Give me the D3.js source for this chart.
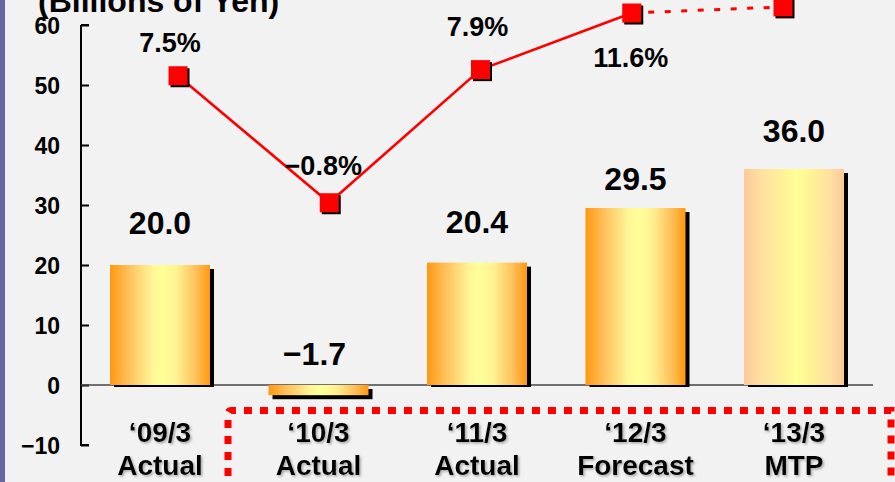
<!DOCTYPE html>
<html>
<head>
<meta charset="utf-8">
<script src="https://cdn.jsdelivr.net/npm/d3@7"></script>
<style>
  html, body { margin: 0; padding: 0; background: #f2f2f2; }
  svg { display: block; }
  text { font-family: "Liberation Sans", Arial, Helvetica, sans-serif; font-weight: bold; fill: #000; }
</style>
</head>
<body>
<svg id="chart" width="895" height="482"></svg>
<script>
// Fiscal periods and their status
const periods = ["\u201809/3", "\u201810/3", "\u201811/3", "\u201812/3", "\u201813/3"];
const periodTypes = ["Actual", "Actual", "Actual", "Forecast", "MTP"];

// Operating income (billions of yen) shown as bars
const income = [20.0, -1.7, 20.4, 29.5, 36.0];

// Operating margin (%) shown as the red line
const marginPct = [7.5, -0.8, 7.9, 11.6, 12.0];
const marginLabelShown = [true, true, true, true, false];

// Left axis ticks
const yTicks = [-10, 0, 10, 20, 30, 40, 50, 60];

// Label placement (vertical offsets of text baselines from marks)
const incomeLabelGap = [31, 20, 30, 18, 27];
const marginLabelDy = [-24, -28, -34, 54, 0];
const marginLabelDx = [-8, -6, -3, -1, 0];

const svg = d3.select("#chart");
const W = 895, H = 482;

const fmt = v => d3.format(".1f")(v).replace("-", "\u2212");

// Scales
const y = d3.scaleLinear().domain([-10, 60]).range([445, 25]);
const x = d3.scaleBand().domain(periods).range([81, 873])
  .paddingInner(0.369).paddingOuter(0.183);
const xm = d3.scalePoint().domain(periods).range([178, 783]);
const yPct = d3.scaleLinear().domain([-10, 15]).range([343.5, -39]);

// Defs: gradients and shadow
const defs = svg.append("defs");
function grad(id, edge) {
  const g = defs.append("linearGradient").attr("id", id)
    .attr("x1", "0%").attr("x2", "100%").attr("y1", "0%").attr("y2", "0%");
  [[0, edge.a], [0.18, edge.b], [0.42, "#fff596"], [0.52, "#ffff99"],
   [0.66, "#fff393"], [0.86, edge.b], [1, edge.a]]
    .forEach(([o, c]) => g.append("stop").attr("offset", o).attr("stop-color", c));
}
grad("barGrad", { a: "#ff9810", b: "#ffbf5a" });
grad("barGradLight", { a: "#fdca98", b: "#fee0a2" });

const f = defs.append("filter").attr("id", "txtShadow")
  .attr("x", "-10%").attr("y", "-20%").attr("width", "130%").attr("height", "150%");
f.append("feDropShadow").attr("dx", 1.5).attr("dy", 1.5).attr("stdDeviation", 1)
  .attr("flood-color", "#777").attr("flood-opacity", 0.6);

// Background and side strip
svg.append("rect").attr("width", W).attr("height", H).attr("fill", "#f2f2f2");
svg.append("rect").attr("width", 5).attr("height", H).attr("fill", "#6a68a0");

// Unit title
svg.append("text").attr("x", 38).attr("y", 12).attr("font-size", 32)
  .text("(Billions of Yen)");

// Left axis
const axis = d3.axisRight(y).tickValues(yTicks).tickSize(8).tickFormat("");
const ag = svg.append("g").attr("transform", "translate(81,0)").call(axis);
ag.select(".domain").attr("stroke", "#000").attr("stroke-width", 2).attr("d", `M0,${y(60)}H8M0,${y(60)}V${y(-10)}H8`);
ag.selectAll(".tick line").attr("stroke", "#000").attr("stroke-width", 2);

svg.append("g").selectAll("text").data(yTicks).join("text")
  .attr("x", 60).attr("y", d => y(d) + 9).attr("text-anchor", "end")
  .attr("font-size", 23)
  .text(d => String(d).replace("-", "\u2212"));

// Zero line
svg.append("line").attr("x1", 81).attr("x2", 873)
  .attr("y1", y(0)).attr("y2", y(0)).attr("stroke", "#444").attr("stroke-width", 1.6);

// Bars with drop shadows
const barData = periods.map((p, i) => ({ p, v: income[i], i }));
svg.append("g").selectAll("rect").data(barData).join("rect")
  .attr("x", d => x(d.p) + 4)
  .attr("y", d => Math.min(y(d.v), y(0)) + 4)
  .attr("width", x.bandwidth())
  .attr("height", d => Math.abs(y(d.v) - y(0)) - (d.v >= 0 ? 2 : 0))
  .attr("fill", "#000");
svg.append("g").selectAll("rect").data(barData).join("rect")
  .attr("x", d => x(d.p))
  .attr("y", d => Math.min(y(d.v), y(0)))
  .attr("width", x.bandwidth())
  .attr("height", d => Math.abs(y(d.v) - y(0)))
  .attr("fill", d => d.i === 4 ? "url(#barGradLight)" : "url(#barGrad)");

// Bar value labels
svg.append("g").selectAll("text").data(barData).join("text")
  .attr("x", d => x(d.p) + x.bandwidth() / 2 - (d.v < 0 ? 4 : 0))
  .attr("y", d => (d.v >= 0 ? y(d.v) : y(0)) - incomeLabelGap[d.i])
  .attr("text-anchor", "middle").attr("font-size", 32)
  .attr("font-weight", "bold")
  .text(d => fmt(d.v));

// Margin line: solid for actual/forecast, dashed toward the plan year
const pts = periods.map((p, i) => ({ p, v: marginPct[i], i }));
const line = d3.line().x(d => xm(d.p)).y(d => yPct(d.v));
svg.append("path").attr("d", line(pts.slice(0, 4)))
  .attr("fill", "none").attr("stroke", "#ff0000").attr("stroke-width", 2.6);
svg.append("path").attr("d", line(pts.slice(3)))
  .attr("fill", "none").attr("stroke", "#ff0000").attr("stroke-width", 3)
  .attr("stroke-dasharray", "6,10.5");

// Markers
const ms = 19;
svg.append("g").selectAll("rect").data(pts).join("rect")
  .attr("x", d => xm(d.p) - ms / 2 + 2).attr("y", d => yPct(d.v) - ms / 2 + 2)
  .attr("width", ms).attr("height", ms).attr("fill", "#000");
svg.append("g").selectAll("rect").data(pts).join("rect")
  .attr("x", d => xm(d.p) - ms / 2).attr("y", d => yPct(d.v) - ms / 2)
  .attr("width", ms).attr("height", ms).attr("fill", "#ff0000");

// Margin labels
svg.append("g").selectAll("text").data(pts.filter(d => marginLabelShown[d.i])).join("text")
  .attr("x", d => xm(d.p) + marginLabelDx[d.i])
  .attr("y", d => yPct(d.v) + marginLabelDy[d.i])
  .attr("text-anchor", "middle").attr("font-size", 27)
  .text(d => fmt(d.v) + "%");

// Highlight frame around the periods from '10/3 onward
svg.append("path")
  .attr("d", `M228,${H + 10}V414Q228,410.5 231.5,410.5H891V${H + 10}`)
  .attr("fill", "none").attr("stroke", "#ff0000").attr("stroke-width", 7)
  .attr("stroke-dasharray", "8,8");

// Category labels
const cg = svg.append("g").attr("filter", "url(#txtShadow)");
cg.selectAll("text.p").data(periods).join("text").attr("class", "p")
  .attr("x", d => x(d) + x.bandwidth() / 2).attr("y", 442)
  .attr("text-anchor", "middle").attr("font-size", 28).text(d => d);
cg.selectAll("text.t").data(periods).join("text").attr("class", "t")
  .attr("x", d => x(d) + x.bandwidth() / 2).attr("y", 475)
  .attr("text-anchor", "middle").attr("font-size", 28)
  .text((d, i) => periodTypes[i]);
</script>
</body>
</html>
